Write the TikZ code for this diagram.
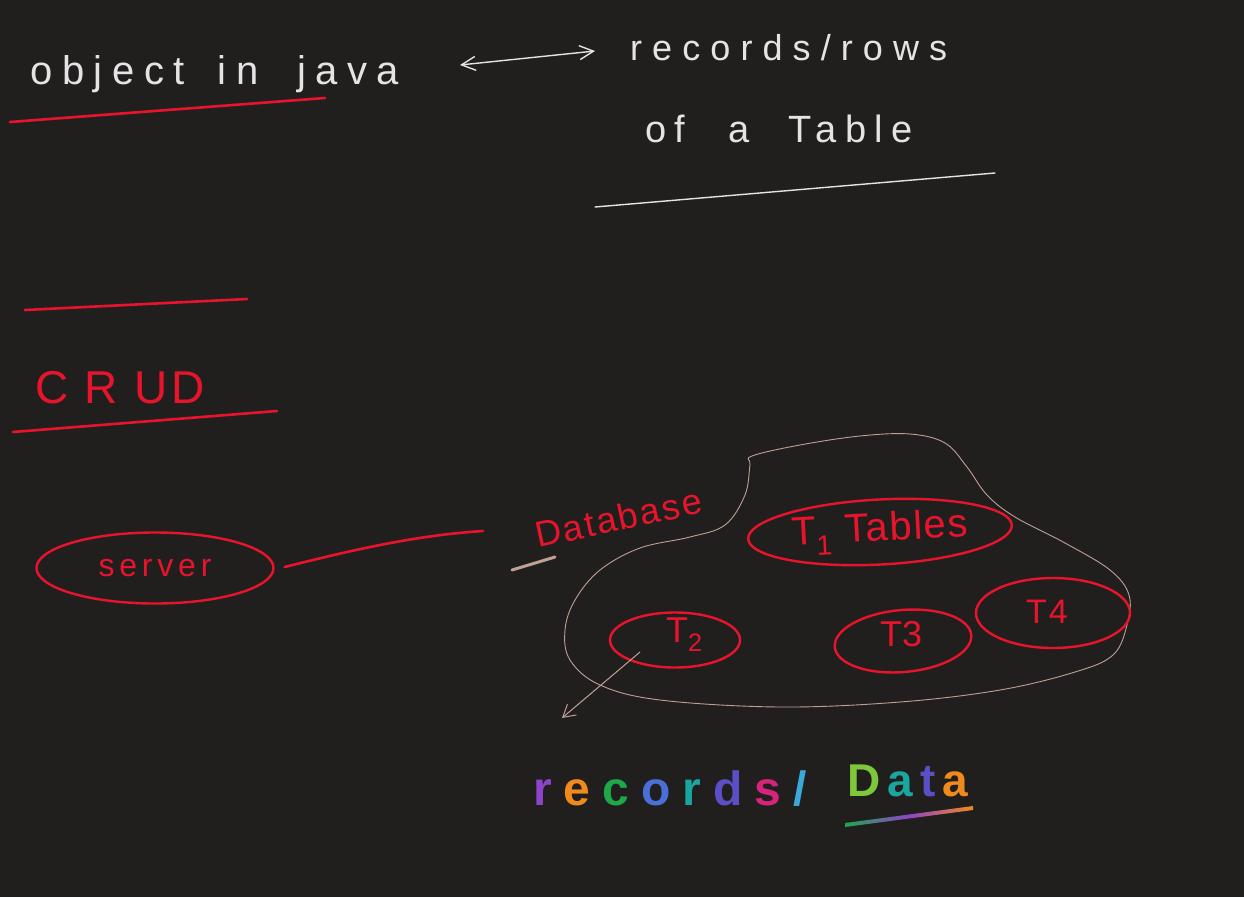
\documentclass[tikz,border=0pt]{standalone}
\usepackage{fontspec}
\setmainfont{Liberation Sans}
\usetikzlibrary{arrows.meta,shapes.geometric}
\definecolor{bg}{HTML}{211F1E}
\definecolor{inkred}{HTML}{E8142C}
\definecolor{inkwhite}{HTML}{E4E4E4}
\definecolor{dbline}{HTML}{BFA095}
\definecolor{rbPurple}{HTML}{8E44C8}
\definecolor{rbOrange}{HTML}{F08A1C}
\definecolor{rbGreen}{HTML}{1FA84A}
\definecolor{rbBlue}{HTML}{4A6FD8}
\definecolor{rbTeal}{HTML}{1AA6A0}
\definecolor{rbIndigo}{HTML}{5B4FC8}
\definecolor{rbMagenta}{HTML}{D6247A}
\definecolor{rbCyan}{HTML}{3AA8D8}
\definecolor{rbLime}{HTML}{7CC83A}
\tikzset{
  whitetext/.style={text=inkwhite, inner sep=0pt, anchor=base west},
  redtext/.style={text=inkred, inner sep=0pt, anchor=base west},
  redline/.style={draw=inkred, line width=2.6pt, line cap=round},
  whiteline/.style={draw=inkwhite, line width=1.4pt, line cap=round},
  tablering/.style={ellipse, draw=inkred, line width=2.4pt, inner sep=0pt},
  barb/.style={-{Straight Barb[length=12pt,width=14pt]}},
}
\newcommand{\hs}[2]{\fontsize{#1}{#1}\selectfont\addfontfeatures{LetterSpace=#2}}
\newcommand{\rb}[2]{\textcolor{#1}{#2}\hspace{12pt}}
\begin{document}
\begin{tikzpicture}[x=1pt,y=-1pt]
\fill[bg] (0,0) rectangle (1244,897);
\useasboundingbox (0,0) rectangle (1244,897);

% top left
\node[whitetext, font=\hs{40}{24}] (obj) at (30,84) {object\hspace{12pt} in\hspace{18pt} java};
\draw[redline] (10,122) -- (325,98);

% double arrow
\coordinate (arrL) at (460,65);
\coordinate (arrR) at (595,51);
\draw[inkwhite, line width=1.4pt, {Straight Barb[length=14pt,width=14pt]}-{Straight Barb[length=14pt,width=14pt]}] (arrL) -- (arrR);

% top right
\node[whitetext, font=\hs{36}{28}] (rec) at (630,60) {records/rows};
\node[whitetext, font=\hs{38}{22}] (tbl) at (645,142) {of\hspace{24pt} a\hspace{20pt} Table};
\draw[whiteline] (595,207) -- (995,173);

% CRUD
\draw[redline] (25,310) -- (247,299);
\node[redtext, font=\hs{46}{8}] (crud) at (35,403) {C R UD};
\draw[redline] (13,432) -- (277,411);

% server
\node[tablering, minimum width=237pt, minimum height=71pt, text=inkred, font=\hs{32}{15}] (server) at (155,568) {server};
\coordinate (dbl) at (483,531);
\path (server.east) ++(10,-1) coordinate (srvout);
\draw[redline] (srvout) .. controls (360,548) and (420,535) .. (dbl);

% Database label
\node[redtext, font=\hs{36}{6}, rotate=12] (dbtext) at (538,548) {Database};
\draw[dbline, line width=3pt, line cap=round] (512,570) -- (555,557);

% database outline
\draw[dbline, line width=0.9pt] plot[smooth cycle, tension=0.6] coordinates {
 (752,456) (800,445) (860,436) (910,434) (945,443) (967,467) (987,495) (1015,517)
 (1065,543) (1110,570) (1129,595) (1127,625) (1113,655) (1075,672) (1000,690)
 (900,702) (780,707) (660,700) (600,685) (570,660) (565,630) (575,600) (600,570)
 (640,548) (690,537) (725,525) (745,495) (750,465)};

% tables
\node[tablering, minimum width=264pt, minimum height=65pt, rotate=3, text=inkred, font=\hs{40}{4}] (t1) at (880,532) {T\textsubscript{1} Tables};
\node[tablering, minimum width=130pt, minimum height=55pt] (t2) at (675,640) {};
\node[redtext, font=\hs{36}{0}] (t2text) at (666,642) {T\textsubscript{2}};
\node[tablering, minimum width=137pt, minimum height=62pt, rotate=5] (t3) at (903,641) {};
\node[redtext, font=\hs{36}{0}] (t3text) at (880,646) {T3};
\node[tablering, minimum width=154pt, minimum height=70pt] (t4) at (1053,613) {};
\node[redtext, font=\hs{34}{6}] (t4text) at (1026,623) {T4};

% arrow from T2
\coordinate (t2out) at (640,652);
\coordinate (recin) at (562,718);
\draw[dbline, line width=1pt, barb] (t2out) -- (recin);

% rainbow text
\node[anchor=base west, inner sep=0pt, font=\fontsize{48}{48}\selectfont\bfseries] (records) at (533,805)
  {\rb{rbPurple}{r}\rb{rbOrange}{e}\rb{rbGreen}{c}\rb{rbBlue}{o}\rb{rbTeal}{r}\rb{rbIndigo}{d}\rb{rbMagenta}{s}\textcolor{rbCyan}{/}};
\node[anchor=base west, inner sep=0pt, font=\fontsize{46}{46}\selectfont\bfseries] (data) at (847,796)
  {\textcolor{rbLime}{D}\hspace{7pt}\textcolor{rbTeal}{a}\hspace{7pt}\textcolor{rbIndigo}{t}\hspace{7pt}\textcolor{rbOrange}{a}};
\shade[left color=rbGreen, right color=rbOrange, middle color=rbPurple]
  (845,823) -- (973,806) -- (973,810) -- (845,827) -- cycle;
\end{tikzpicture}
\end{document}
